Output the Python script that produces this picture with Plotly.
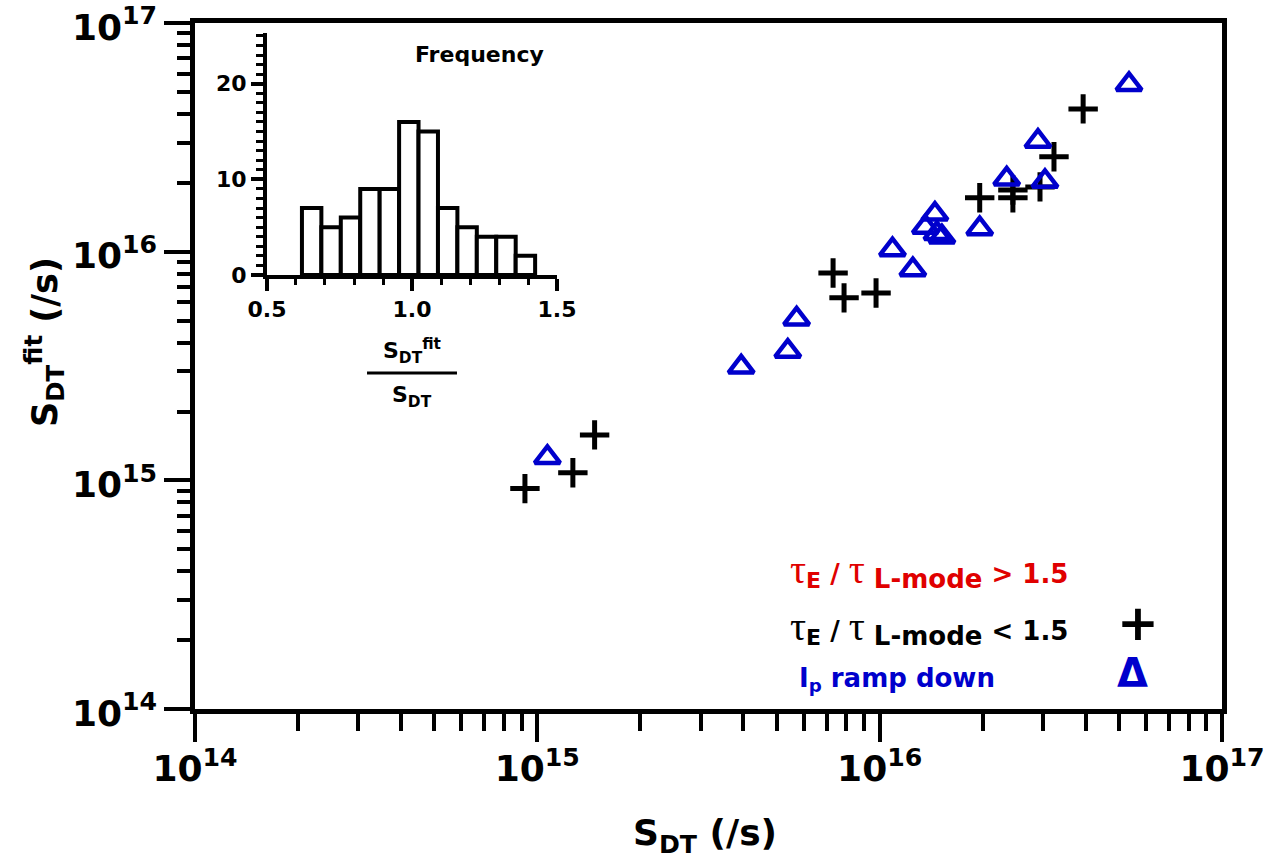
import plotly.graph_objects as go

# ---------------- data ----------------
# tau_E / tau_L-mode < 1.5  (black crosses)
cross_x = [9.2e14, 1.27e15, 1.47e15, 7.31e15, 7.87e15, 9.76e15, 1.96e16, 2.45e16, 2.45e16, 2.94e16, 3.23e16, 3.93e16]
cross_y = [9.2e14, 1.08e15, 1.58e15, 8.07e15, 6.28e15, 6.60e15, 1.72e16, 1.86e16, 1.72e16, 1.92e16, 2.60e16, 4.21e16]
# Ip ramp down (blue triangles)
tri_x = [1.07e15, 3.94e15, 5.39e15, 5.72e15, 1.09e16, 1.25e16, 1.45e16, 1.36e16, 1.47e16, 1.52e16, 1.96e16, 2.35e16, 2.90e16, 3.04e16, 5.35e16]
tri_y = [1.26e15, 3.13e15, 3.67e15, 5.08e15, 1.02e16, 8.34e15, 1.46e16, 1.28e16, 1.20e16, 1.16e16, 1.26e16, 2.08e16, 3.04e16, 2.03e16, 5.39e16]

# inset histogram of S_DT^fit / S_DT
hist_centers = [0.654, 0.721, 0.788, 0.855, 0.922, 0.989, 1.056, 1.123, 1.190, 1.257, 1.324, 1.391]
hist_counts = [7, 5, 6, 9, 9, 16, 15, 7, 5, 4, 4, 2]
hist_binwidth = 0.067

# axis ticks
major_vals = [1e14, 1e15, 1e16, 1e17]
major_text = ["10<sup>14</sup>", "10<sup>15</sup>", "10<sup>16</sup>", "10<sup>17</sup>"]
minor_vals = [k * 10.0 ** e for e in (14, 15, 16) for k in range(2, 10)]
inset_xvals = [0.5, 1.0, 1.5]
inset_xtext = ["0.5", "1.0", "1.5"]
inset_yvals = [0, 10, 20]

BLUE = "#0000cc"
RED = "#e00000"
FONT = "DejaVu Sans"

# --------------- figure ----------------
fig = go.Figure()

fig.add_trace(go.Scatter(
    x=cross_x, y=cross_y, mode="markers", name="tauE/tauL < 1.5",
    marker=dict(symbol="cross-thin-open", size=21, color="black",
                line=dict(color="black", width=5)),
))
fig.add_trace(go.Scatter(
    x=tri_x, y=tri_y, mode="markers", name="Ip ramp down",
    marker=dict(symbol="triangle-up-open", size=22, color=BLUE,
                line=dict(color=BLUE, width=4.5)),
))
fig.add_trace(go.Bar(
    x=hist_centers, y=hist_counts, width=hist_binwidth, xaxis="x2", yaxis="y2",
    marker=dict(color="white", line=dict(color="black", width=4)),
))

axis_common = dict(showline=True, linecolor="black", showgrid=False, zeroline=False,
                   ticks="outside", tickcolor="black", automargin=False,
                   ticklabeloverflow="allow")

fig.update_layout(
    width=1272, height=864,
    margin=dict(l=195, r=50, t=23, b=155),
    plot_bgcolor="white", paper_bgcolor="white",
    showlegend=False,
    font=dict(family=FONT, color="black", weight="bold"),
    xaxis=dict(type="log", range=[13.99999, 17.00001], linewidth=4.5, mirror=True,
               tickvals=major_vals, ticktext=major_text, ticklen=28, tickwidth=4,
               ticklabelstandoff=-4,
               tickfont=dict(size=36, family=FONT, weight="bold"),
               minor=dict(tickvals=minor_vals, ticks="outside", ticklen=17, tickwidth=4,
                          tickcolor="black", showgrid=False),
               **axis_common),
    yaxis=dict(type="log", range=[13.99999, 17.00001], linewidth=4.5, mirror=True,
               tickvals=major_vals, ticktext=major_text, ticklen=26, tickwidth=4,
               ticklabelshift=4,
               tickfont=dict(size=36, family=FONT, weight="bold"),
               minor=dict(tickvals=minor_vals, ticks="outside", ticklen=13, tickwidth=4,
                          tickcolor="black", showgrid=False),
               **axis_common),
    xaxis2=dict(domain=[0.0701, 0.3525], anchor="y2", range=[0.5, 1.5], linewidth=4,
                tickvals=inset_xvals, ticktext=inset_xtext, ticklen=12, tickwidth=4,
                tickfont=dict(size=22, family=FONT, weight="bold"),
                minor=dict(dtick=0.1, tick0=0.5, ticks="outside", ticklen=6, tickwidth=3,
                           tickcolor="black", showgrid=False),
                **axis_common),
    yaxis2=dict(domain=[0.6327, 0.9854], anchor="x2", range=[0, 25.3], linewidth=4,
                tickvals=inset_yvals, ticklen=12, tickwidth=4,
                tickfont=dict(size=22, family=FONT, weight="bold"),
                minor=dict(dtick=1, tick0=0, ticks="outside", ticklen=7, tickwidth=3,
                           tickcolor="black", showgrid=False),
                **axis_common),
)

tau = '<span style="font-family:Liberation Serif;font-size:40px;font-weight:normal">τ</span>'
sub_e = '<sub><span style="font-size:22px">E</span></sub>'
sub_big = '<sub><span style="font-size:26px">{}</span></sub>'

ann = []
# axis titles
ann.append(dict(text="S<sub>DT</sub><sup>fit</sup> (/s)", x=-0.146, y=0.535, xref="paper", yref="paper",
                textangle=-90, showarrow=False, xanchor="center", yanchor="middle",
                font=dict(size=35, family=FONT, weight="bold")))
ann.append(dict(text="S<sub>DT</sub> (/s)", x=0.497, y=-0.184, xref="paper", yref="paper",
                showarrow=False, xanchor="center", yanchor="middle",
                font=dict(size=36, family=FONT, weight="bold")))
# inset labels
ann.append(dict(text="Frequency", x=0.2775, y=0.9534, xref="paper", yref="paper",
                showarrow=False, xanchor="center", yanchor="middle",
                font=dict(size=22, family=FONT, weight="bold")))
ann.append(dict(text="S<sub>DT</sub><sup>fit</sup>", x=0.2113, y=0.522, xref="paper", yref="paper",
                showarrow=False, xanchor="center", yanchor="middle",
                font=dict(size=22, family=FONT, weight="bold")))
ann.append(dict(text="S<sub>DT</sub>", x=0.2113, y=0.456, xref="paper", yref="paper",
                showarrow=False, xanchor="center", yanchor="middle",
                font=dict(size=22, family=FONT, weight="bold")))
# legend
ann.append(dict(text=tau + sub_e + " / " + tau + sub_big.format(" L-mode") + " &gt; 1.5",
                x=0.5774, y=0.2012, xref="paper", yref="paper", showarrow=False,
                xanchor="left", yanchor="middle",
                font=dict(size=26, family=FONT, weight="bold", color=RED)))
ann.append(dict(text=tau + sub_e + " / " + tau + sub_big.format(" L-mode") + " &lt; 1.5",
                x=0.5774, y=0.1195, xref="paper", yref="paper", showarrow=False,
                xanchor="left", yanchor="middle",
                font=dict(size=26, family=FONT, weight="bold", color="black")))
ann.append(dict(text="I<sub>p</sub> ramp down",
                x=0.5862, y=0.0432, xref="paper", yref="paper", showarrow=False,
                xanchor="left", yanchor="middle",
                font=dict(size=26, family=FONT, weight="bold", color=BLUE)))
ann.append(dict(text="+", x=0.9179, y=0.1258, xref="paper", yref="paper", showarrow=False,
                xanchor="center", yanchor="middle",
                font=dict(size=50, family=FONT, weight="bold", color="black")))
ann.append(dict(text="Δ", x=0.9133, y=0.0525, xref="paper", yref="paper", showarrow=False,
                xanchor="center", yanchor="middle",
                font=dict(size=40, family=FONT, weight="bold", color=BLUE)))
fig.update_layout(annotations=ann)

# fraction bar under inset label
fig.add_shape(type="line", xref="paper", yref="paper", x0=0.1675, x1=0.2551, y0=0.4898, y1=0.4898,
              line=dict(color="black", width=3))

fig.write_html("out.html", config={"displayModeBar": False},
               post_script="document.body.style.margin='0px';")
